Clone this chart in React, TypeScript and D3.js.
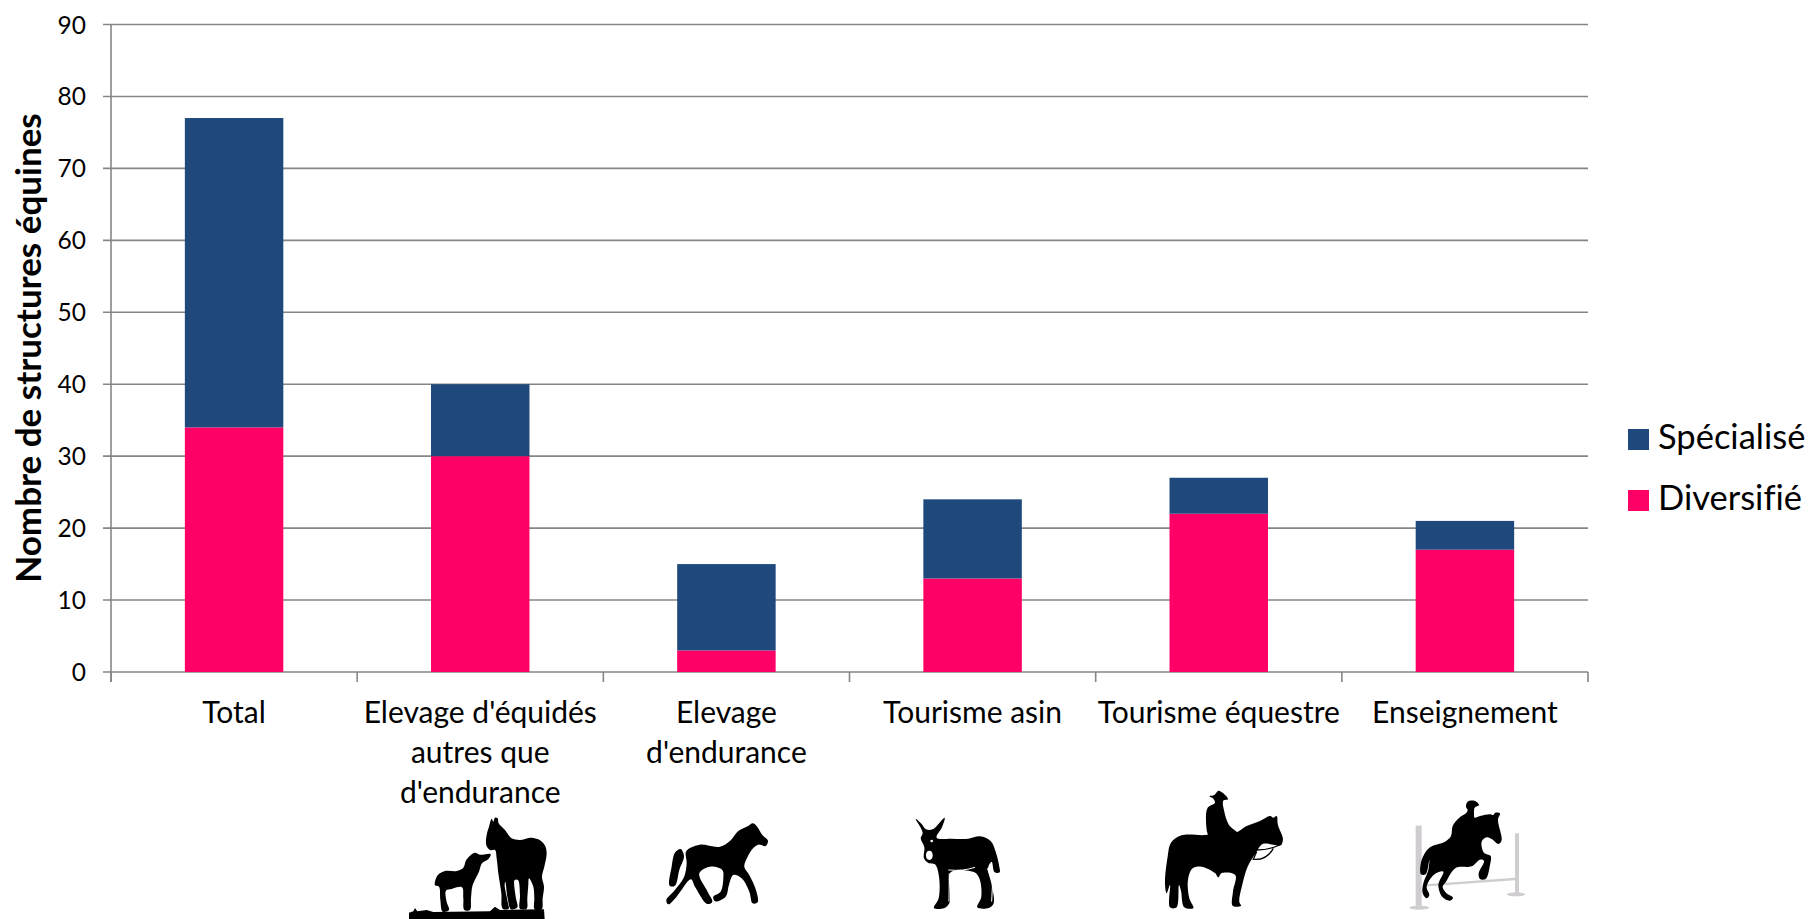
import React from 'react';
import * as d3 from 'd3';

const categories = ['Total', "Elevage d'équidés|autres que|d'endurance", "Elevage|d'endurance", 'Tourisme asin', 'Tourisme équestre', 'Enseignement'];
const diversifie = [34, 30, 3, 13, 22, 17];
const specialise = [43, 10, 12, 11, 5, 4];
const yTicks = [0, 10, 20, 30, 40, 50, 60, 70, 80, 90];
const seriesNames = ['Diversifié', 'Spécialisé'];
const seriesColors = ['#FF0066', '#1F497D'];

const W = 1809, H = 919;
const FONT = 'Lato, Carlito, sans-serif';
const AXIS = '#868686';

const x = d3.scaleBand<number>().domain(d3.range(categories.length)).range([111, 1588]).paddingInner(0.6).paddingOuter(0.3);
const xStep = d3.scaleLinear().domain([0, categories.length]).range([111, 1588]);
const y = d3.scaleLinear().domain([0, 90]).range([672, 24.5]);

const rows = categories.map((c, i) => ({ c, i, diversifie: diversifie[i], specialise: specialise[i] }));
const stacked = d3.stack<any>().keys(['diversifie', 'specialise'])(rows);

const smooth = d3.line().curve(d3.curveCatmullRomClosed.alpha(0.5));
const mare = [[335,146],[340,155],[345,143],[353,145],[356,160],[375,180],[395,205],[420,210],[450,203],[475,208],[494,225],[500,250],[493,290],[486,320],[492,350],[488,385],[485,418],[464,418],[463,385],[460,350],[447,325],[445,345],[442,385],[440,416],[420,416],[420,375],[414,330],[404,330],[407,380],[412,412],[393,418],[383,385],[376,335],[374,345],[384,400],[386,416],[368,416],[364,370],[355,310],[350,265],[345,240],[330,240],[319,226],[320,195],[327,170]];
const foal = [[285,248],[300,254],[332,252],[326,266],[306,280],[297,305],[278,345],[273,385],[270,420],[253,420],[250,385],[246,352],[215,357],[198,362],[200,395],[207,420],[188,425],[181,390],[177,350],[165,346],[173,316],[195,303],[230,303],[250,293],[260,268]];
const trot = [[1118,160],[1130,168],[1147,195],[1164,212],[1157,228],[1135,224],[1120,234],[1103,260],[1093,290],[1108,315],[1128,360],[1133,397],[1118,400],[1108,365],[1085,325],[1060,315],[1047,345],[1037,380],[1005,394],[1000,380],[1022,365],[1030,325],[1027,300],[990,290],[958,310],[983,365],[997,395],[982,402],[945,350],[933,328],[890,380],[865,403],[859,390],[883,362],[912,322],[920,280],[918,245],[935,232],[960,224],[1020,230],[1050,213],[1075,183],[1105,168]];
const trotTail = [[902,237],[885,248],[875,290],[869,347],[885,347],[898,300],[912,258]];
const donkey = [[107,146],[125,162],[138,178],[158,178],[194,143],[186,172],[170,203],[215,206],[265,206],[300,199],[332,213],[347,245],[358,290],[359,307],[344,307],[335,275],[324,295],[334,340],[341,400],[326,414],[292,412],[304,380],[298,325],[283,307],[212,307],[210,370],[208,400],[192,415],[162,414],[176,385],[177,320],[165,283],[145,279],[132,265],[133,232],[122,205],[128,188]];
const ridden = [[1170,138],[1180,143],[1190,138],[1194,165],[1209,208],[1202,226],[1180,224],[1148,222],[1128,248],[1103,290],[1088,340],[1078,395],[1083,407],[1058,407],[1059,365],[1066,315],[1025,309],[1015,322],[1005,309],[965,290],[938,295],[924,330],[928,385],[940,414],[913,412],[903,362],[897,345],[890,412],[870,412],[870,345],[860,370],[855,340],[863,260],[873,218],[905,196],[985,193],[1000,178],[1065,188],[1100,168],[1140,153]];
const rider = [[1015,62],[1030,70],[1044,88],[1030,92],[1032,120],[1047,165],[1072,190],[1000,202],[986,197],[978,150],[983,113],[1005,98],[1000,86],[988,79],[1003,75]];
const jumper = [[300,88],[310,90],[315,83],[330,85],[324,105],[335,165],[326,177],[305,162],[290,157],[275,170],[282,203],[302,213],[300,240],[287,282],[270,282],[266,265],[282,228],[270,224],[245,244],[197,249],[168,290],[158,305],[168,323],[189,338],[180,347],[158,337],[145,300],[160,260],[132,269],[110,305],[118,330],[110,340],[98,325],[100,295],[115,255],[118,225],[107,268],[93,268],[95,225],[118,188],[165,170],[183,153],[188,123],[208,98],[228,85],[233,75],[228,65],[233,50],[255,48],[267,60],[254,68],[252,85],[254,98],[270,93]];

const Sil = ({ pts }: { pts: number[][] }) => <path d={smooth(pts as any) as string} fill="#000" />;

export default function App() {
  return (
    <svg width={W} height={H} viewBox={`0 0 ${W} ${H}`} style={{ position: 'absolute', left: 0, top: 0, background: '#fff', fontVariantLigatures: 'none' }} fontFamily={FONT}>
      {yTicks.map(t => (
        <line key={t} x1={103} x2={1588} y1={y(t)} y2={y(t)} stroke={AXIS} strokeWidth={1.6} />
      ))}
      {stacked.map((s, si) => s.map((d, i) => (
        <rect key={si + '-' + i} x={x(i)} width={x.bandwidth()} y={y(d[1])} height={y(d[0]) - y(d[1])} fill={seriesColors[si]} />
      )))}
      <line x1={111} x2={111} y1={y(90)} y2={682} stroke={AXIS} strokeWidth={1.6} />
      {d3.range(categories.length + 1).map(i => (
        <line key={i} x1={xStep(i)} x2={xStep(i)} y1={y(0)} y2={682} stroke={AXIS} strokeWidth={1.6} />
      ))}
      {yTicks.map(t => (
        <text key={t} x={86} y={y(t) + 9} textAnchor="end" fontSize={24.5} fill="#000">{t}</text>
      ))}
      {categories.map((c, i) => c.split('|').map((l, j) => (
        <text key={i + '-' + j} x={x(i)! + x.bandwidth() / 2} y={723 + j * 40} textAnchor="middle" fontSize={30} fill="#000">{l}</text>
      )))}
      <text transform="translate(41,348) rotate(-90)" textAnchor="middle" fontSize={35} fontWeight={700} fill="#000">Nombre de structures équines</text>

      {[1, 0].map((si, k) => (
        <g key={si}>
          <rect x={1628} y={429 + k * 61} width={21} height={21} fill={seriesColors[si]} />
          <text x={1658} y={449 + k * 61} fontSize={34.5} fill="#000">{seriesNames[si]}</text>
        </g>
      ))}

      <g transform="translate(380,770) scale(0.3333)">
        <Sil pts={mare} />
        <Sil pts={foal} />
        <path d="M87 447 L87 428 L100 424 L105 414 L112 424 L140 420 L160 426 L330 424 L345 410 L360 420 L492 418 L494 447 Z" fill="#000" />
        <Sil pts={trot} />
        <Sil pts={trotTail} />
      </g>
      <g transform="translate(880,770) scale(0.3333)">
        <Sil pts={donkey} />
        <ellipse cx={148} cy={256} rx={10} ry={14} fill="#fff" />
        <circle cx={155} cy={213} r={4} fill="#fff" />
        <path d="M205 300 Q250 304 285 292 M322 295 L338 335 L335 395 M208 310 L207 395" stroke="#fff" strokeWidth={3} fill="none" />
        <Sil pts={ridden} />
        <Sil pts={rider} />
        <path d="M1205 222 Q1170 240 1130 240 M1180 235 Q1160 272 1120 268 L1130 245" stroke="#000" strokeWidth={4} fill="none" />
      </g>
      <g transform="translate(1390,785) scale(0.3333)">
        <g fill="#CFCDD0">
          <rect x={77} y={122} width={18} height={248} />
          <ellipse cx={88} cy={368} rx={30} ry={6} />
          <rect x={375} y={145} width={12} height={180} />
          <ellipse cx={378} cy={328} rx={28} ry={6} />
        </g>
        <line x1={98} y1={302} x2={375} y2={282} stroke="#CFCDD0" strokeWidth={7} />
        <Sil pts={jumper} />
      </g>
    </svg>
  );
}
